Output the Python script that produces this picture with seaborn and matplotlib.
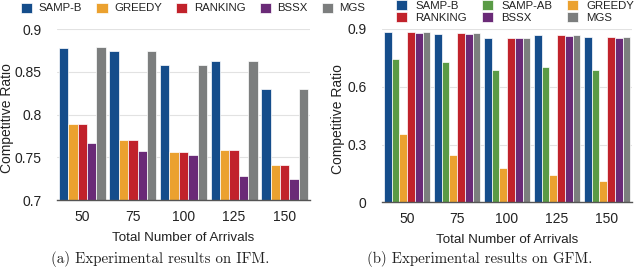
import pandas as pd
import matplotlib.pyplot as plt
import seaborn as sns

arrivals = ["50", "75", "100", "125", "150"]

# (a) IFM
ifm_methods = ["SAMP-B", "GREEDY", "RANKING", "BSSX", "MGS"]
ifm_samp_b = [0.878, 0.874, 0.858, 0.862, 0.830]
ifm_greedy = [0.789, 0.770, 0.756, 0.758, 0.741]
ifm_ranking = [0.789, 0.770, 0.756, 0.758, 0.741]
ifm_bssx = [0.767, 0.757, 0.753, 0.728, 0.725]
ifm_mgs = [0.879, 0.874, 0.858, 0.862, 0.830]

# (b) GFM
gfm_methods = ["SAMP-B", "SAMP-AB", "GREEDY", "RANKING", "BSSX", "MGS"]
gfm_samp_b = [0.886, 0.876, 0.855, 0.869, 0.859]
gfm_samp_ab = [0.745, 0.727, 0.688, 0.701, 0.689]
gfm_greedy = [0.357, 0.245, 0.179, 0.141, 0.110]
gfm_ranking = [0.886, 0.878, 0.855, 0.869, 0.859]
gfm_bssx = [0.881, 0.873, 0.855, 0.866, 0.855]
gfm_mgs = [0.886, 0.878, 0.855, 0.869, 0.859]

colors = {
    "SAMP-B": "#154d8b",
    "SAMP-AB": "#5a9b46",
    "GREEDY": "#eba12f",
    "RANKING": "#c1222b",
    "BSSX": "#6a2a77",
    "MGS": "#7c7e7e",
}


def to_long(methods, series):
    rows = []
    for m, vals in zip(methods, series):
        for n, v in zip(arrivals, vals):
            rows.append({"Arrivals": n, "Ratio": v, "Method": m})
    return pd.DataFrame(rows)


df_ifm = to_long(ifm_methods, [ifm_samp_b, ifm_greedy, ifm_ranking, ifm_bssx, ifm_mgs])
df_gfm = to_long(gfm_methods, [gfm_samp_b, gfm_samp_ab, gfm_greedy,
                               gfm_ranking, gfm_bssx, gfm_mgs])

sns.set_style("white")
plt.rcParams["font.family"] = ["Liberation Sans", "DejaVu Sans"]
text_col = "#222222"

fig = plt.figure(figsize=(6.4, 2.74), dpi=100)
ax1 = fig.add_axes([57 / 640, 74 / 274, 253 / 640, 171 / 274])
ax2 = fig.add_axes([382 / 640, 71.7 / 274, 250 / 640, 173.3 / 274])


def draw(ax, df, methods, ylim, yticks, yticklabels):
    sns.barplot(data=df, x="Arrivals", y="Ratio", hue="Method",
                order=arrivals, hue_order=methods, palette=colors,
                width=0.93, edgecolor="white", linewidth=0.5,
                saturation=1, errorbar=None, ax=ax)
    ax.set_ylim(*ylim)
    ax.set_yticks(yticks)
    ax.set_yticklabels(yticklabels, fontsize=10, color=text_col)
    ax.tick_params(axis="x", labelsize=10, colors=text_col, length=0, pad=7)
    ax.tick_params(axis="y", length=0, pad=11)
    ax.grid(axis="y", color="#e2e2e2", linewidth=0.8)
    ax.set_axisbelow(True)
    for s in ["top", "right", "left"]:
        ax.spines[s].set_visible(False)
    ax.spines["bottom"].set_color("#555555")
    ax.spines["bottom"].set_linewidth(1.0)
    ax.set_xlabel("Total Number of Arrivals", fontsize=9.6, color=text_col, labelpad=6)
    ax.set_ylabel("Competitive Ratio", fontsize=10, color=text_col)
    ax.get_legend().remove()


draw(ax1, df_ifm, ifm_methods, (0.7, 0.9), [0.7, 0.75, 0.8, 0.85, 0.9],
     ["0.7", "0.75", "0.8", "0.85", "0.9"])
draw(ax2, df_gfm, gfm_methods, (0, 0.9), [0, 0.3, 0.6, 0.9],
     ["0", "0.3", "0.6", "0.9"])
ax1.yaxis.set_label_coords(-0.17, 0.48)
ax2.yaxis.set_label_coords(-0.148, 0.48)

h1, l1 = ax1.get_legend_handles_labels()
fig.legend(h1, l1, loc="center left", bbox_to_anchor=(21 / 640, 1 - 8 / 274),
           ncol=5, frameon=False, fontsize=8.2, handlelength=1.0,
           handleheight=1.0, handletextpad=0.55, columnspacing=1.25,
           borderpad=0, borderaxespad=0, labelcolor=text_col)

# row-major order: SAMP-B, SAMP-AB, GREEDY / RANKING, BSSX, MGS
h2, l2 = ax2.get_legend_handles_labels()
idx = [0, 3, 1, 4, 2, 5]
fig.legend([h2[i] for i in idx], [l2[i] for i in idx], loc="center left",
           bbox_to_anchor=(396 / 640, 1 - 11.5 / 274),
           ncol=3, frameon=False, fontsize=8.2, handlelength=1.0,
           handleheight=0.9, handletextpad=0.7, columnspacing=1.3,
           labelspacing=0.1, borderpad=0, borderaxespad=0, labelcolor=text_col)

fig.text(160 / 640, 1 - 259 / 274, "(a) Experimental results on IFM.",
         family="cmr10", fontsize=10.8, ha="center", va="center", color=text_col)
fig.text(480 / 640, 1 - 259 / 274, "(b) Experimental results on GFM.",
         family="cmr10", fontsize=10.8, ha="center", va="center", color=text_col)

fig.savefig("out.png", dpi=100)
